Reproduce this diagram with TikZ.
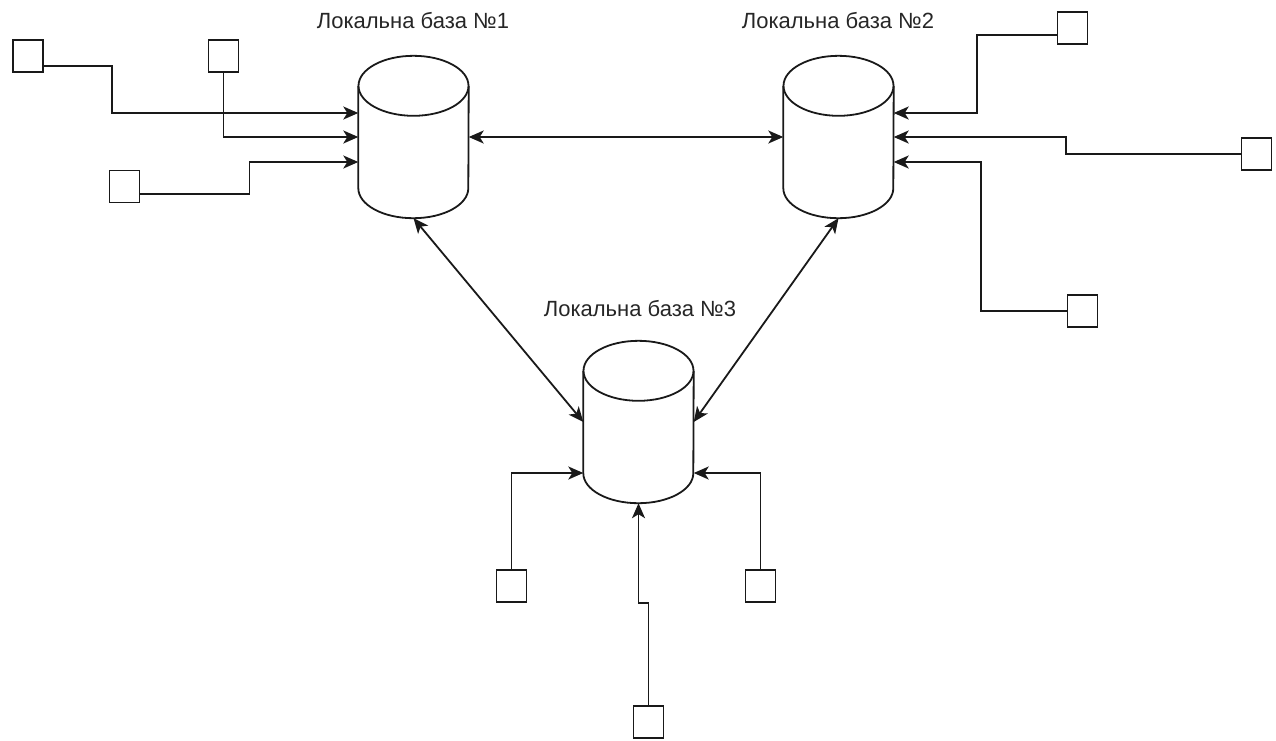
\documentclass[tikz,border=0pt]{standalone}
\usepackage{fontspec}
\setmainfont{Liberation Sans}
\usetikzlibrary{arrows.meta,calc}

% vertical database cylinder drawn over a named placeholder node
\newcommand\dbcyl[1]{%
  \draw[line] ($(#1.north west)+(0,30)$) -- ($(#1.south west)+(0,-30)$)
    arc[start angle=180, end angle=0, x radius=55, y radius=30]
    -- ($(#1.north east)+(0,30)$);
  \draw[line] ($(#1.north)+(0,30)$) ellipse [x radius=55, y radius=30];
}

\begin{document}
\begin{tikzpicture}[x=1pt,y=-1pt,
  line/.style={line width=1.8pt, draw=black!90, line join=miter},
  tip/.tip={Stealth[length=15pt,width=13pt,inset=4pt]},
  link/.style={line, -tip},
  biarrow/.style={line, tip-tip},
  term/.style={draw=black!90, line width=1.8pt, minimum width=30pt, minimum height=32pt, inner sep=0pt, fill=white},
  dbbox/.style={minimum width=110pt, minimum height=162pt, inner sep=0pt},
  dblabel/.style={font=\fontsize{22}{26}\selectfont, text=black!85, inner sep=0pt}]

  \path[use as bounding box] (0,0) rectangle (1276,740);

  % databases
  \node[dbbox] (db1) at (413.5,137) {};
  \node[dbbox] (db2) at (838.5,137) {};
  \node[dbbox] (db3) at (638.5,422) {};
  \dbcyl{db1}
  \dbcyl{db2}
  \dbcyl{db3}

  \node[dblabel] (l1) at (413,21) {Локальна база №1};
  \node[dblabel] (l2) at (838,21) {Локальна база №2};
  \node[dblabel] (l3) at (640,309) {Локальна база №3};

  % terminals
  \node[term] (a) at (28,56) {};
  \node[term] (b) at (223.5,56) {};
  \node[term] (c) at (124.5,186.5) {};
  \node[term] (d) at (1072.5,28) {};
  \node[term] (e) at (1256.5,154) {};
  \node[term] (f) at (1082.5,311) {};
  \node[term] (g) at (511.5,586) {};
  \node[term] (h) at (760.5,586) {};
  \node[term] (i) at (648.5,722) {};

  % links between databases
  \draw[biarrow] (db1.east) -- (db2.west);
  \draw[biarrow] (db1.south) -- (db3.west);
  \draw[biarrow] (db2.south) -- (db3.east);

  % terminals of database 1
  \draw[link] ([yshift=-10pt]a.east) -- ++(68,0) |- ([yshift=24pt]db1.west);
  \draw[link] (b.south) |- (db1.west);
  \draw[link] ([yshift=-7.5pt]c.east) -- ++(109,0) |- ([yshift=-25pt]db1.west);

  % terminals of database 2
  \draw[link] ([yshift=-7pt]d.west) -- ++(-80,0) |- ([yshift=24pt]db2.east);
  \draw[link] (e.west) -- ++(-175,0) |- (db2.east);
  \draw[link] (f.west) -- ++(-86,0) |- ([yshift=-25pt]db2.east);

  % terminals of database 3
  \draw[link] (g.north) |- ([yshift=-51pt]db3.west);
  \draw[link] (h.north) |- ([yshift=-51pt]db3.east);
  \draw[link] (i.north) -- ++(0,-102) -| (db3.south);
\end{tikzpicture}
\end{document}
